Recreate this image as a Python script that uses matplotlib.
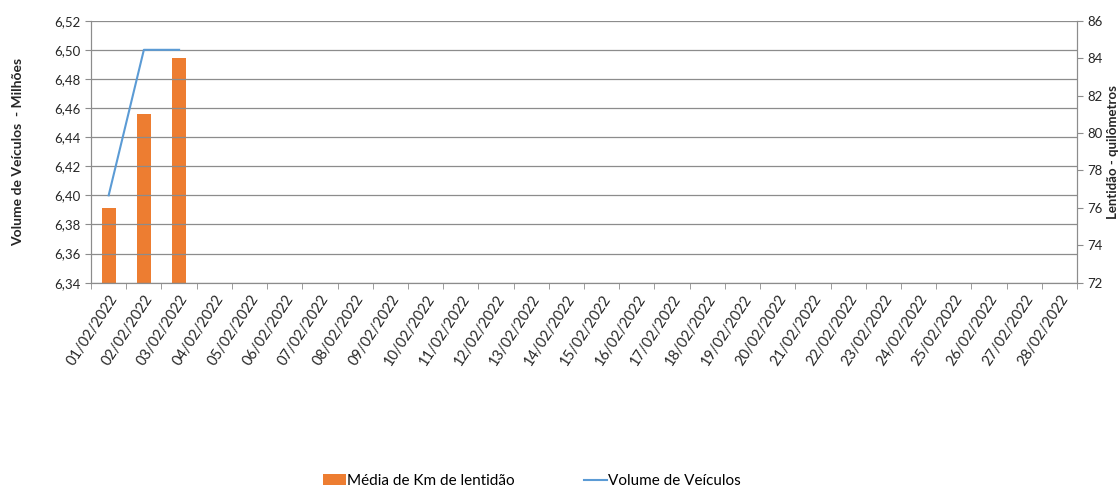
import matplotlib.pyplot as plt
import matplotlib.ticker as mticker

plt.rcParams['font.family'] = ['Lato', 'DejaVu Sans']

# data
dates = [f'{d:02d}/02/2022' for d in range(1, 29)]
km_lentidao = [76.0, 81.0, 84.0]          # right axis (bars)
volume_milhoes = [6.40, 6.50, 6.50]       # left axis (line)

orange = '#ED7D31'
blue = '#5B9BD5'
grid_c = '#8c8c8c'
spine_c = '#8c8c8c'
text_c = '#262626'

fig = plt.figure(figsize=(11.2, 4.91), dpi=100)
ax = fig.add_axes([0.0813, 0.4243, 0.8803, 0.5335])
ax2 = ax.twinx()

x = list(range(len(dates)))

# bars on km axis, line on volume axis
bars = ax2.bar(x[:len(km_lentidao)], km_lentidao, width=0.4, color=orange, zorder=2,
               label='Média de Km de lentidão')
line, = ax.plot(x[:len(volume_milhoes)], volume_milhoes, color=blue, lw=1.5,
                label='Volume de Veículos', zorder=3)
ax.set_zorder(ax2.get_zorder() + 1)
ax.patch.set_visible(False)

ax.set_xlim(-0.5, len(dates) - 0.5)
ax.set_ylim(6.34, 6.52)
ax.yaxis.set_major_locator(mticker.MultipleLocator(0.02))
ax.yaxis.set_major_formatter(mticker.FuncFormatter(lambda v, p: f'{v:.2f}'.replace('.', ',')))
ax2.set_ylim(72, 86)
ax2.yaxis.set_major_locator(mticker.MultipleLocator(2))

ax.grid(axis='y', color=grid_c, lw=0.9)
ax.set_axisbelow(True)

ax.set_xticks(x)
ax.set_xticklabels(dates, rotation=57, ha='right', rotation_mode='anchor', fontsize=10.5, color=text_c)
ax.set_xticks([i - 0.5 for i in range(len(dates) + 1)], minor=True)
ax.tick_params(axis='x', which='major', length=0, pad=7)
ax.tick_params(axis='x', which='minor', length=4, color=spine_c)
ax.tick_params(axis='y', length=4, color=spine_c, labelsize=9.5, labelcolor=text_c)
ax2.tick_params(axis='y', length=4, color=spine_c, labelsize=9.5, labelcolor=text_c)

for a in (ax, ax2):
    a.spines['top'].set_visible(False)
    a.spines['left'].set_color(spine_c)
    a.spines['right'].set_color(spine_c)
    a.spines['bottom'].set_color(spine_c)

ax.set_ylabel('Volume de Veículos  - Milhões', fontsize=10, fontweight='bold', color=text_c, labelpad=22)
ax2.set_ylabel('Lentidão - quilômetros', fontsize=9.5, fontweight='bold', color=text_c, labelpad=3)

fig.legend([bars, line], ['Média de Km de lentidão', 'Volume de Veículos'],
           loc='center', bbox_to_anchor=(0.475, 0.02), ncol=2, frameon=False,
           fontsize=11, handlelength=1.5, handletextpad=0.1, columnspacing=4.5)

fig.savefig('out.png', dpi=100)
